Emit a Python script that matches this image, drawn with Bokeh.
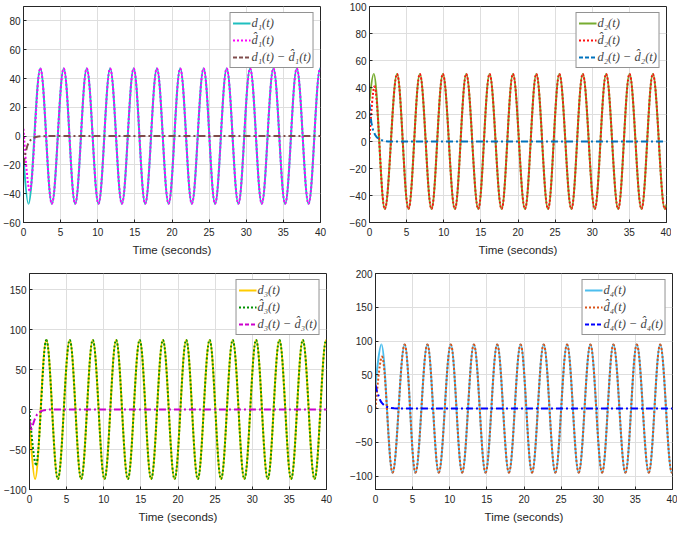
from bokeh.plotting import figure
from bokeh.models import Legend, LegendItem, Range1d, ColumnDataSource
from bokeh.layouts import column, row
from bokeh.embed import file_html
from bokeh.resources import INLINE

# ---------------- data ----------------
x_ticks = [0, 5, 10, 15, 20, 25, 30, 35, 40]

# panel 1 : extrema of d1(t) (seconds, value)
d1_t = [0, 0.66, 2.27, 3.82, 5.42, 6.96, 8.52, 10.1, 11.67, 13.25, 14.84, 16.39, 17.97, 19.54,
        21.11, 22.67, 24.26, 25.8, 27.37, 28.94, 30.52, 32.09, 33.66, 35.24, 36.81, 38.39, 39.96]
d1_v = [-15, -47, 47, -47, 47, -47, 47, -47, 47, -47, 47, -47, 47, -47,
        47, -47, 47, -47, 47, -47, 47, -47, 47, -47, 47, -47, 47]
d1h_t = [0, 0.83]          # estimate before it joins d1 (at 2.27 s)
d1h_v = [5, -38]
e1_t = [0, 0.25, 0.5, 0.75, 1.0, 1.25, 1.5, 2.0, 2.5, 3.0, 40]
e1_v = [-20, -12, -7, -4, -2.5, -1.5, -0.8, -0.3, -0.1, 0, 0]
y1_ticks = [-60, -40, -20, 0, 20, 40, 60, 80]

# panel 2
d2_t = [0, 0.57, 2.06, 3.71, 5.25, 6.78, 8.35, 9.88, 11.5, 13.03, 14.65, 16.17, 17.79, 19.32,
        20.94, 22.47, 24.04, 25.57, 27.19, 28.72, 30.34, 31.87, 33.49, 35.02, 36.63, 38.16, 39.78, 40]
d2_v = [30, 50, -50, 50, -50, 50, -50, 50, -50, 50, -50, 50, -50, 50,
        -50, 50, -50, 50, -50, 50, -50, 50, -50, 50, -50, 50, -50, -47]
d2h_t = [0, 0.66]
d2h_v = [2, 41]
e2_t = [0, 0.1, 0.25, 0.5, 0.75, 1.0, 1.5, 2.0, 2.5, 40]
e2_v = [28, 21, 14, 8, 5, 3, 1.2, 0.4, 0, 0]
y2_ticks = [-60, -40, -20, 0, 20, 40, 60, 80, 100]

# panel 3
d3_t = [0, 0.74, 2.27, 3.82, 5.42, 6.96, 8.52, 10.1, 11.67, 13.25, 14.84, 16.39, 17.97, 19.54,
        21.11, 22.67, 24.26, 25.8, 27.37, 28.94, 30.52, 32.09, 33.66, 35.24, 36.81, 38.39, 39.96]
d3_v = [-15, -87, 87, -87, 87, -87, 87, -87, 87, -87, 87, -87, 87, -87,
        87, -87, 87, -87, 87, -87, 87, -87, 87, -87, 87, -87, 87]
d3h_t = [0, 0.88]
d3h_v = [-2, -69]
e3_t = [0, 0.2, 0.4, 0.6, 0.8, 1.0, 1.3, 1.6, 2.0, 2.5, 3.0, 40]
e3_v = [-14, -26, -21, -15, -10, -6.5, -3.5, -2, -0.8, -0.2, 0, 0]
y3_ticks = [-100, -50, 0, 50, 100, 150]

# panel 4
d4_t = [0, 0.79, 2.3, 3.93, 5.38, 6.99, 8.52, 10.14, 11.67, 13.25, 14.82, 16.39, 17.97, 19.54,
        21.08, 22.65, 24.22, 25.8, 27.37, 28.94, 30.52, 32.04, 33.66, 35.19, 36.81, 38.34, 39.91, 40]
d4_v = [35, 95, -95, 95, -95, 95, -95, 95, -95, 95, -95, 95, -95, 95,
        -95, 95, -95, 95, -95, 95, -95, 95, -95, 95, -95, 95, -95, -94]
d4h_t = [0, 0.87]
d4h_v = [0, 77]
e4_t = [0, 0.2, 0.4, 0.6, 0.8, 1.0, 1.25, 1.5, 2.0, 2.5, 3.0, 40]
e4_v = [35, 26, 19, 13, 9, 6.5, 4, 2.5, 0.8, 0.2, 0, 0]
y4_ticks = [-100, -50, 0, 50, 100, 150, 200]

labels = {
    1: ["d\u2081(t)", "d\u0302\u2081(t)", "d\u2081(t) \u2212 d\u0302\u2081(t)"],
    2: ["d\u2082(t)", "d\u0302\u2082(t)", "d\u2082(t) \u2212 d\u0302\u2082(t)"],
    3: ["d\u2083(t)", "d\u0302\u2083(t)", "d\u2083(t) \u2212 d\u0302\u2083(t)"],
    4: ["d\u2084(t)", "d\u0302\u2084(t)", "d\u2084(t) \u2212 d\u0302\u2084(t)"],
}
colors = {
    1: ["#1FBFBF", "#FF00FF", "#7F4C4C"],
    2: ["#77AC30", "#FF1010", "#0072BD"],
    3: ["#FFCC00", "#009000", "#CC00CC"],
    4: ["#4DBEEE", "#D95319", "#0000FF"],
}

K = 0.36
DOT = "2 2"
DASHDOT = "7 3 2 3"
FW, FH = 297, 216


def bez_source(ts, vs):
    x0, y0, x1, y1, cx0, cy0, cx1, cy1 = [], [], [], [], [], [], [], []
    for i in range(len(ts) - 1):
        a, b = ts[i], ts[i + 1]
        dx = b - a
        x0.append(a); y0.append(vs[i]); x1.append(b); y1.append(vs[i + 1])
        k0 = 0.0 if i == 0 else K
        cx0.append(a + k0 * dx); cy0.append(vs[i])
        cx1.append(b - K * dx); cy1.append(vs[i + 1])
    return ColumnDataSource(dict(x0=x0, y0=y0, x1=x1, y1=y1, cx0=cx0, cy0=cy0, cx1=cx1, cy1=cy1))


def panel(n, dt, dv, ht, hv, et, ev, yr, yticks, left, right, top, bottom):
    p = figure(frame_width=FW, frame_height=FH, x_range=Range1d(0, 40), y_range=Range1d(*yr),
               output_backend="svg", toolbar_location=None,
               min_border_left=left, min_border_right=right, min_border_top=top,
               min_border_bottom=bottom, background_fill_color="white", border_fill_color="white")
    c = colors[n]
    ls = labels[n]
    p.bezier(source=bez_source(dt, dv), x0="x0", y0="y0", x1="x1", y1="y1",
             cx0="cx0", cy0="cy0", cx1="cx1", cy1="cy1", line_color=c[0], line_width=2)
    hat_t = ht + dt[2:]
    hat_v = hv + dv[2:]
    p.bezier(source=bez_source(hat_t, hat_v), x0="x0", y0="y0", x1="x1", y1="y1",
             cx0="cx0", cy0="cy0", cx1="cx1", cy1="cy1", line_color=c[1], line_width=2,
             line_dash=DOT)
    p.line(et, ev, line_color=c[2], line_width=2, line_dash=DASHDOT)

    # legend samples (drawn outside the visible x range)
    r0 = p.line([-100, -99], [0, 0], line_color=c[0], line_width=2)
    r1 = p.line([-100, -99], [0, 0], line_color=c[1], line_width=2, line_dash=DOT)
    r2 = p.line([-100, -99], [0, 0], line_color=c[2], line_width=2, line_dash="4 2")
    leg = Legend(items=[LegendItem(label=ls[0], renderers=[r0]),
                        LegendItem(label=ls[1], renderers=[r1]),
                        LegendItem(label=ls[2], renderers=[r2])],
                 location="top_right", label_text_font="Liberation Serif",
                 label_text_font_style="italic", label_text_font_size="12.5px",
                 glyph_width=18, glyph_height=16, label_height=16, label_standoff=1,
                 spacing=1, padding=2, margin=6, border_line_color="#262626",
                 border_line_width=1, background_fill_color="white", background_fill_alpha=1)
    p.add_layout(leg)

    p.xaxis.ticker = x_ticks
    p.yaxis.ticker = yticks
    p.xgrid.ticker = x_ticks
    p.ygrid.ticker = yticks
    p.grid.grid_line_color = "#dedede"
    p.grid.grid_line_width = 1
    p.outline_line_color = "#262626"
    p.outline_line_width = 1
    p.outline_line_alpha = 1
    for ax in (p.xaxis[0], p.yaxis[0]):
        ax.axis_line_color = "#262626"
        ax.major_tick_line_color = "#262626"
        ax.major_tick_in = 3
        ax.major_tick_out = 0
        ax.minor_tick_line_color = None
        ax.major_label_text_font = "Liberation Sans"
        ax.major_label_text_font_size = "10px"
        ax.major_label_text_color = "#262626"
    p.xaxis.major_label_standoff = 5
    p.yaxis.major_label_standoff = 3
    p.xaxis.axis_label = "Time (seconds)"
    p.xaxis.axis_label_text_font = "Liberation Sans"
    p.xaxis.axis_label_text_font_size = "11.5px"
    p.xaxis.axis_label_text_font_style = "normal"
    p.xaxis.axis_label_text_color = "#262626"
    p.xaxis.axis_label_standoff = 5
    return p


p1 = panel(1, d1_t, d1_v, d1h_t, d1h_v, e1_t, e1_v, (-60, 90), y1_ticks, 21, 14, 6, 35)
p2 = panel(2, d2_t, d2_v, d2h_t, d2h_v, e2_t, e2_v, (-60, 100), y2_ticks, 35, 5, 6, 35)
p3 = panel(3, d3_t, d3_v, d3h_t, d3h_v, e3_t, e3_v, (-100, 170), y3_ticks, 21, 14, 15, 38)
p4 = panel(4, d4_t, d4_v, d4h_t, d4h_v, e4_t, e4_v, (-120, 200), y4_ticks, 35, 5, 15, 38)

layout = column(row(p1, p2), row(p3, p4))
open("out.html", "w").write(file_html(layout, INLINE))
